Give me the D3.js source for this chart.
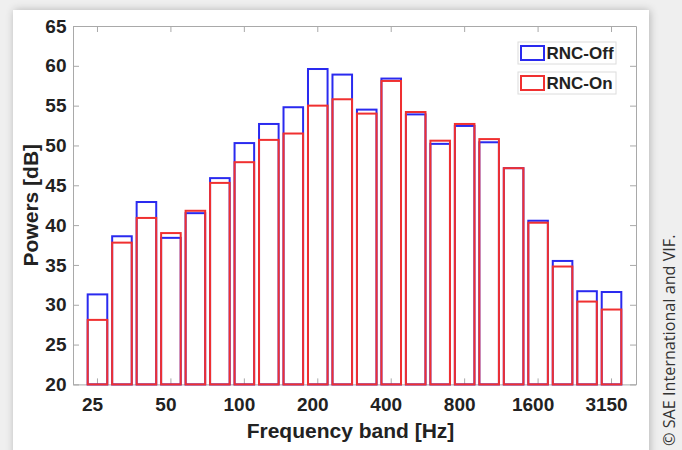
<!DOCTYPE html>
<html><head><meta charset="utf-8">
<script src="https://cdn.jsdelivr.net/npm/d3@7"></script>
<style>html,body{margin:0;padding:0;background:#efefef}svg{display:block}</style>
</head><body>
<svg id="chart" width="682" height="450"></svg>
<script>
// ---- data ----
const bands = ["25","31.5","40","50","63","80","100","125","160","200","250","315","400","500","630","800","1000","1250","1600","2000","2500","3150"];
const rncOff = [31.3,38.6,42.9,38.4,41.5,45.9,50.3,52.7,54.8,59.6,58.9,54.5,58.4,53.9,50.2,52.45,50.4,47.15,40.55,35.5,31.7,31.6];
const rncOn  = [28.1,37.8,40.9,39.0,41.8,45.3,47.9,50.7,51.5,55.0,55.8,54.0,58.1,54.2,50.6,52.7,50.8,47.15,40.3,34.8,30.4,29.4];
const xTickLabels = ["25","50","100","200","400","800","1600","3150"];
const yTickValues = [20,25,30,35,40,45,50,55,60,65];
const seriesNames = ["RNC-Off","RNC-On"];

// ---- layout / style ----
const W = 682, H = 450;
const L = 73, R = 636, T = 26, B = 384.4;
const colBlue = "#2a2aef", colRed = "#f03030", axisCol = "#a9a9a9", txtCol = "#222";
const font = "'Liberation Sans', Arial, Helvetica, sans-serif";

const svg = d3.select("#chart");

// card with shadow
const defs = svg.append("defs");
const f = defs.append("filter").attr("id","sh").attr("x","-10%").attr("y","-10%").attr("width","120%").attr("height","120%");
f.append("feGaussianBlur").attr("in","SourceAlpha").attr("stdDeviation",4);
f.append("feOffset").attr("dx",1).attr("dy",0).attr("result","b");
f.append("feComponentTransfer").append("feFuncA").attr("type","linear").attr("slope",0.25);
const m = f.append("feMerge"); m.append("feMergeNode"); m.append("feMergeNode").attr("in","SourceGraphic");
svg.append("rect").attr("x",0).attr("y",0).attr("width",W).attr("height",H).attr("fill","#efefef");
svg.append("rect").attr("x",13).attr("y",10).attr("width",636).attr("height",460).attr("fill","#fff").attr("filter","url(#sh)");

// scales
const x = d3.scaleBand().domain(bands).range([L,R]).paddingInner(0.2).paddingOuter(0.6);
const y = d3.scaleLinear().domain([20,65]).range([B,T]);
const tickBands = bands.filter((d,i)=>i%3===0);

// axes
function styleAxis(g){
  g.select(".domain").attr("stroke",axisCol).attr("stroke-width",1);
  g.selectAll(".tick line").attr("stroke",axisCol).attr("stroke-width",1);
  g.selectAll("text").attr("fill",txtCol).attr("font-family",font).attr("font-weight","bold").attr("font-size",19);
}
const gx = svg.append("g").attr("transform",`translate(0,${B})`)
  .call(d3.axisBottom(x).tickValues(tickBands).tickSizeInner(-6).tickSizeOuter(0).tickPadding(13)
  .tickFormat((d,i)=>xTickLabels[i]));
styleAxis(gx); gx.selectAll("text").attr("dx",-5);
const gxt = svg.append("g").attr("transform",`translate(0,${T})`)
  .call(d3.axisTop(x).tickValues(tickBands).tickSizeInner(-6).tickSizeOuter(0).tickFormat(""));
styleAxis(gxt);
const gy = svg.append("g").attr("transform",`translate(${L},0)`)
  .call(d3.axisLeft(y).tickValues(yTickValues).tickSizeInner(-6).tickSizeOuter(0).tickPadding(6.5));
styleAxis(gy);
const gyr = svg.append("g").attr("transform",`translate(${R},0)`)
  .call(d3.axisRight(y).tickValues(yTickValues).tickSizeInner(-6).tickSizeOuter(0).tickFormat(""));
styleAxis(gyr);

// bars: blue first, red on top, no fill
const series = [{name:seriesNames[0],vals:rncOff,col:colBlue},{name:seriesNames[1],vals:rncOn,col:colRed}];
series.forEach(s=>{
  svg.append("g").selectAll("rect").data(bands).join("rect")
    .attr("x",d=>x(d)).attr("width",x.bandwidth())
    .attr("y",(d,i)=>y(s.vals[i])).attr("height",(d,i)=>y(20)-y(s.vals[i]))
    .attr("fill","none").attr("stroke",s.col).attr("stroke-width",2);
});

// axis titles
svg.append("text").attr("x",(L+R)/2-4).attr("y",437.5).attr("text-anchor","middle")
  .attr("font-family",font).attr("font-weight","bold").attr("font-size",21).attr("fill",txtCol)
  .text("Frequency band [Hz]");
svg.append("text").attr("transform",`translate(38,${(T+B)/2}) rotate(-90)`).attr("text-anchor","middle")
  .attr("font-family",font).attr("font-weight","bold").attr("font-size",21).attr("fill",txtCol)
  .text("Powers [dB]");

// legend
const lg = svg.append("g");
series.forEach((s,i)=>{
  const by = 42 + i*30;
  lg.append("rect").attr("x",518).attr("y",by).attr("width",98).attr("height",22)
    .attr("fill","#fff").attr("stroke","#dcdcdc").attr("stroke-width",1);
  lg.append("rect").attr("x",521).attr("y",by+4).attr("width",23).attr("height",14)
    .attr("fill","none").attr("stroke",s.col).attr("stroke-width",2);
  lg.append("text").attr("x",546.5).attr("y",by+11).attr("dominant-baseline","central")
    .attr("font-family",font).attr("font-weight","bold").attr("font-size",17).attr("fill",txtCol)
    .text(s.name);
});

// copyright
svg.append("text").attr("transform","translate(675,446) rotate(-90)").attr("text-anchor","start")
  .attr("font-family","'Open Sans', 'Noto Sans', sans-serif").attr("font-size",16.2).attr("fill","#333")
  .text("© SAE International and VIF.");
</script>
</body></html>
